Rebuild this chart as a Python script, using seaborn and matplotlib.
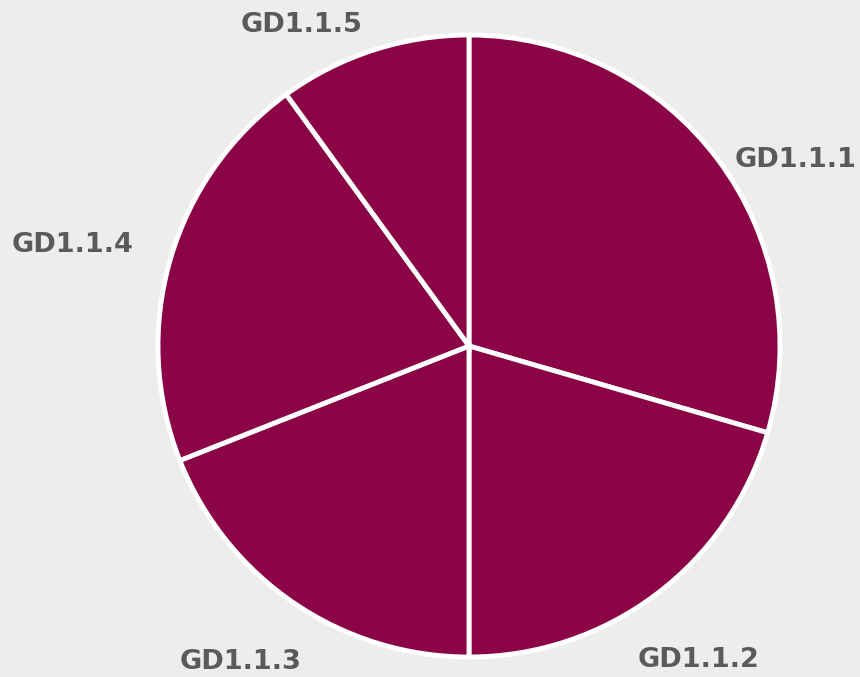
import matplotlib
matplotlib.use("Agg")
import matplotlib.pyplot as plt
import seaborn as sns

# Share of each GD1.1 sub-indicator
categories = ["GD1.1.1", "GD1.1.2", "GD1.1.3", "GD1.1.4", "GD1.1.5"]
values = [29.5, 20.5, 19.0, 21.0, 10.0]

sns.set_theme(style="white")
plt.rcParams["font.family"] = ["DejaVu Sans"]

bg = "#EDEDED"
slice_color = "#8B0546"
label_color = "#5A5A5A"

fig = plt.figure(figsize=(8.6, 6.77), dpi=100, facecolor=bg)
ax = fig.add_axes([158 / 860, 20 / 677, 622 / 860, 622 / 677])
ax.set_facecolor(bg)

colors = [slice_color] * len(values)
wedges, texts = ax.pie(
    values,
    labels=categories,
    colors=colors,
    startangle=90,
    counterclock=False,
    wedgeprops=dict(edgecolor="white", linewidth=3.5),
    textprops=dict(color=label_color, fontsize=19.5, fontweight="bold"),
)
ax.set_xlim(-1, 1)
ax.set_ylim(-1, 1)
ax.set_aspect("equal")
ax.axis("off")

# label anchors (axes data units) and alignment
label_pos = [(1.247, 0.598, "right"), (0.543, -1.01, "left"),
             (-0.537, -1.016, "right"), (-1.08, 0.325, "right"),
             (-0.344, 1.032, "right")]
for t, (x, y, ha) in zip(texts, label_pos):
    t.set_position((x, y))
    t.set_ha(ha)
    t.set_va("center")
    t.set_clip_on(False)

fig.savefig("out.png", dpi=100, facecolor=bg)
